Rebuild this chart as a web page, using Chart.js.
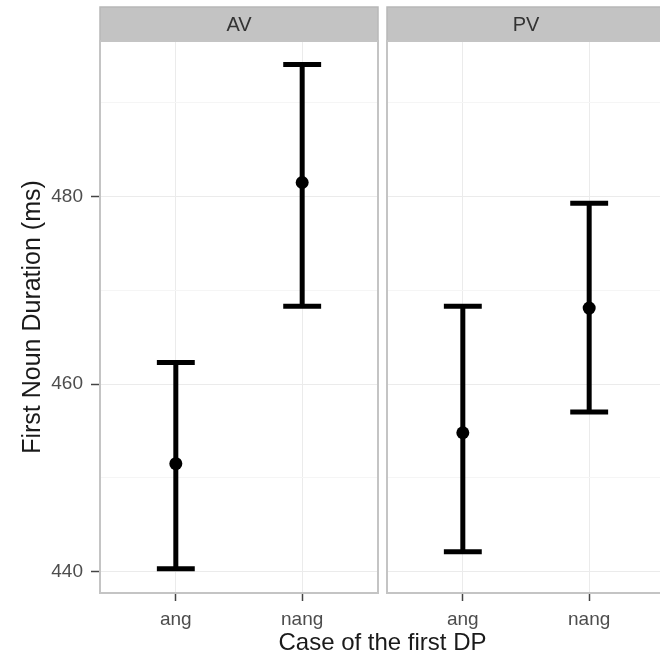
<!DOCTYPE html>
<html>
<head>
<meta charset="utf-8">
<script src="https://cdn.jsdelivr.net/npm/chart.js@4.4.1/dist/chart.umd.min.js"></script>
<style>
  html, body { margin: 0; padding: 0; background: #fff; }
  #wrap { position: relative; width: 660px; height: 655px; overflow: hidden; }
  #c1 { position: absolute; left: 0; top: 0; }
  #c2 { position: absolute; left: 380px; top: 0; }
  #xtitle {
    position: absolute; left: 0; top: 630px; width: 765px;
    text-align: center; font: 24px/24px "Liberation Sans", Arial, sans-serif;
    color: #1a1a1a; white-space: nowrap;
  }
</style>
</head>
<body>
<div id="wrap">
  <canvas id="c1" width="380" height="655"></canvas>
  <canvas id="c2" width="290" height="655"></canvas>
  <div id="xtitle">Case of the first DP</div>
</div>
<script>
// facets and categories
const panels = ['AV', 'PV'];
const categories = ['ang', 'nang'];

// means and error bar limits (ms)
const avMean  = [451.5, 481.5];
const avLower = [440.3, 468.3];
const avUpper = [462.3, 494.1];
const pvMean  = [454.8, 468.1];
const pvLower = [442.1, 457.0];
const pvUpper = [468.3, 479.3];

// axis ticks
const yMajorTicks = [440, 460, 480];
const yMinorTicks = [450, 470, 490];
const yMin = 437.7, yMax = 496.6;

const capHalf = 0.15;   // errorbar width 0.3 in category units

Chart.defaults.font.family = '"Liberation Sans", Arial, sans-serif';
Chart.defaults.animation = false;

// grey strip above each panel + panel border
const stripPlugin = {
  id: 'strip',
  beforeDraw(chart, args, opts) {
    const a = chart.chartArea, ctx = chart.ctx;
    ctx.save();
    ctx.fillStyle = '#c3c3c3';
    ctx.fillRect(a.left, 7, a.right - a.left, a.top - 7);
    ctx.strokeStyle = '#b8b8b8';
    ctx.lineWidth = 1.5;
    ctx.strokeRect(a.left, 7, a.right - a.left, a.top - 7);
    ctx.fillStyle = '#333333';
    ctx.font = '20px "Liberation Sans", Arial, sans-serif';
    ctx.textAlign = 'center';
    ctx.textBaseline = 'middle';
    ctx.fillText(opts.text, (a.left + a.right) / 2, (7 + a.top) / 2 + 1);
    ctx.restore();
  },
  beforeDatasetsDraw(chart) {
    const a = chart.chartArea, ctx = chart.ctx;
    ctx.save();
    ctx.strokeStyle = '#c4c4c4';
    ctx.lineWidth = 2;
    ctx.strokeRect(a.left, a.top, a.right - a.left, a.bottom - a.top);
    ctx.restore();
  }
};

function buildDatasets(mean, lower, upper) {
  const ds = [];
  categories.forEach((c, i) => {
    const x = i + 1;
    const line = { showLine: true, borderColor: '#000', borderWidth: 5, pointRadius: 0, borderCapStyle: 'butt' };
    ds.push(Object.assign({ data: [{ x: x, y: lower[i] }, { x: x, y: upper[i] }] }, line));
    ds.push(Object.assign({ data: [{ x: x - capHalf, y: upper[i] }, { x: x + capHalf, y: upper[i] }] }, line));
    ds.push(Object.assign({ data: [{ x: x - capHalf, y: lower[i] }, { x: x + capHalf, y: lower[i] }] }, line));
  });
  ds.push({
    data: mean.map((m, i) => ({ x: i + 1, y: m })),
    showLine: false, pointRadius: 6.5, pointBorderWidth: 0,
    backgroundColor: '#000', pointBackgroundColor: '#000'
  });
  return ds;
}

function makePanel(canvasId, title, mean, lower, upper, first) {
  const yTicksAll = yMajorTicks.concat(yMinorTicks).sort((a, b) => a - b);
  return new Chart(document.getElementById(canvasId), {
    type: 'scatter',
    data: { datasets: buildDatasets(mean, lower, upper) },
    plugins: [stripPlugin],
    options: {
      responsive: false,
      devicePixelRatio: 1,
      layout: { autoPadding: false, padding: { top: 41, right: first ? 2 : 5, bottom: 0, left: 0 } },
      plugins: {
        legend: { display: false },
        tooltip: { enabled: false },
        strip: { text: title }
      },
      scales: {
        x: {
          type: 'linear',
          min: 0.4, max: 2.6,
          afterBuildTicks: (s) => { s.ticks = categories.map((c, i) => ({ value: i + 1 })); },
          afterFit: (s) => { s.height = 62; s.paddingLeft = 0; s.paddingRight = 0; },
          border: { display: false },
          grid: { color: '#ebebeb', lineWidth: 1, tickLength: 8, tickColor: '#444', tickWidth: 1.5 },
          ticks: {
            autoSkip: false, maxRotation: 0, padding: 7,
            color: '#4d4d4d', font: { size: 19 },
            callback: (v) => categories[v - 1]
          }
        },
        y: {
          min: yMin, max: yMax,
          afterBuildTicks: (s) => { s.ticks = yTicksAll.map(v => ({ value: v })); },
          afterFit: (s) => { s.width = first ? 100 : 7; s.paddingTop = 0; s.paddingBottom = 0; },
          border: { display: false },
          grid: {
            color: (c) => yMajorTicks.includes(c.tick.value) ? '#ebebeb' : '#f5f5f5',
            lineWidth: 1,
            drawTicks: first,
            tickLength: 9,
            tickWidth: 1.5,
            tickColor: (c) => yMajorTicks.includes(c.tick.value) ? '#444' : 'rgba(0,0,0,0)'
          },
          ticks: {
            display: first,
            padding: 8,
            color: '#4d4d4d', font: { size: 19 },
            callback: (v) => yMajorTicks.includes(v) ? String(v) : ''
          },
          title: {
            display: first,
            text: 'First Noun Duration (ms)',
            color: '#1a1a1a',
            font: { size: 25 },
            padding: { top: 18, bottom: 0 }
          }
        }
      }
    }
  });
}

makePanel('c1', panels[0], avMean, avLower, avUpper, true);
makePanel('c2', panels[1], pvMean, pvLower, pvUpper, false);
</script>
</body>
</html>
